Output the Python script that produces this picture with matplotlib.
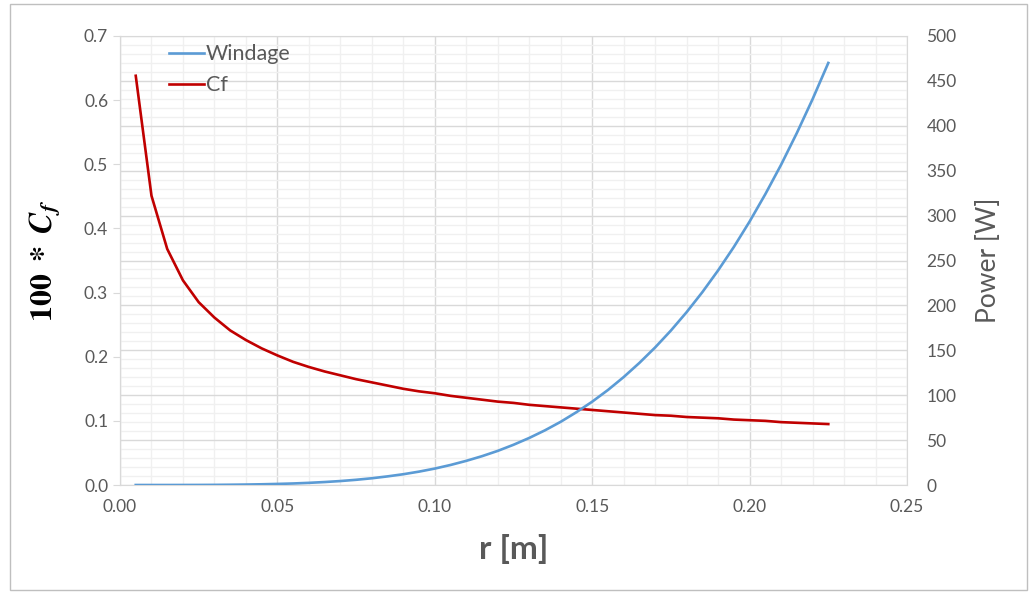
import matplotlib
matplotlib.use("Agg")
import matplotlib.pyplot as plt
from matplotlib.ticker import MultipleLocator, FormatStrFormatter
from matplotlib.patches import Rectangle

# ---- data ----
r = [0.005, 0.010, 0.015, 0.020, 0.025, 0.030, 0.035, 0.040, 0.045, 0.050,
     0.055, 0.060, 0.065, 0.070, 0.075, 0.080, 0.085, 0.090, 0.095, 0.100,
     0.105, 0.110, 0.115, 0.120, 0.125, 0.130, 0.135, 0.140, 0.145, 0.150,
     0.155, 0.160, 0.165, 0.170, 0.175, 0.180, 0.185, 0.190, 0.195, 0.200,
     0.205, 0.210, 0.215, 0.220, 0.225]
cf = [0.638, 0.451, 0.368, 0.319, 0.285, 0.261, 0.241, 0.226, 0.213, 0.202,
      0.192, 0.184, 0.177, 0.171, 0.165, 0.160, 0.155, 0.150, 0.146, 0.143,
      0.139, 0.136, 0.133, 0.130, 0.128, 0.125, 0.123, 0.121, 0.119, 0.117,
      0.115, 0.113, 0.111, 0.109, 0.108, 0.106, 0.105, 0.104, 0.102, 0.101,
      0.100, 0.098, 0.097, 0.096, 0.095]
windage = [0.0, 0.0, 0.0, 0.03, 0.07, 0.15, 0.3, 0.5, 0.8, 1.2,
           1.7, 2.4, 3.3, 4.4, 5.8, 7.5, 9.6, 12.0, 14.9, 18.3,
           22.3, 26.9, 32.1, 38.0, 44.8, 52.4, 60.9, 70.4, 81.1, 92.8,
           105.8, 120.2, 136.0, 153.2, 172.0, 192.5, 214.8, 239.0, 265.1, 293.4,
           323.9, 356.6, 391.9, 429.6, 470.0]

plt.rcParams['font.family'] = ['Lato', 'DejaVu Sans']
plt.rcParams['mathtext.fontset'] = 'stix'

TXT = '#595959'
W, H = 1031, 594
fig = plt.figure(figsize=(W / 100, H / 100), dpi=100)
fig.patch.set_facecolor('white')

# outer chart border
fig.add_artist(Rectangle((10 / W, 4 / H), 1017 / W, 586 / H, transform=fig.transFigure,
                         fill=False, edgecolor='#bfbfbf', lw=1.0))

pos = [120 / W, 1 - 485 / H, (907 - 120) / W, (485 - 36) / H]

# grid-only axes at the back
gax = fig.add_axes(pos, zorder=0)
gax.set_xlim(0, 0.25)
gax.set_ylim(0, 500)
gax.xaxis.set_major_locator(MultipleLocator(0.05))
gax.xaxis.set_minor_locator(MultipleLocator(0.01))
gax.yaxis.set_major_locator(MultipleLocator(50))
gax.yaxis.set_minor_locator(MultipleLocator(10))
gax.grid(which='major', color='#d9d9d9', lw=1.0)
gax.grid(which='minor', color='#f0f0f0', lw=1.0)
gax.tick_params(which='both', length=0, labelbottom=False, labelleft=False)
for s in gax.spines.values():
    s.set_color('#d9d9d9')

# left axis: Cf
ax = fig.add_axes(pos, zorder=1)
ax.patch.set_visible(False)
l2, = ax.plot(r, cf, color='#C00000', lw=1.9, label='Cf')
ax.set_xlim(0, 0.25)
ax.set_ylim(0, 0.7)
ax.xaxis.set_major_locator(MultipleLocator(0.05))
ax.yaxis.set_major_locator(MultipleLocator(0.1))
ax.xaxis.set_major_formatter(FormatStrFormatter('%.2f'))
ax.yaxis.set_major_formatter(FormatStrFormatter('%.1f'))
ax.tick_params(axis='both', labelsize=12.5, colors=TXT, length=5, color='#d9d9d9')
ax.tick_params(axis='x', length=0, pad=10)
for s in ax.spines.values():
    s.set_visible(False)
ax.spines['left'].set_visible(True)
ax.spines['left'].set_color('#d9d9d9')
ax.set_xlabel('r [m]', fontsize=24, fontweight='bold', color=TXT, labelpad=14)
ax.set_ylabel(r'$\mathbf{100\ *\ }\mathbfit{C_f}$', fontsize=23, color='black', labelpad=16)

# right axis: Windage
ax2 = ax.twinx()
ax2.set_zorder(2)
ax2.patch.set_visible(False)
l1, = ax2.plot(r, windage, color='#5B9BD5', lw=1.9, label='Windage')
ax2.set_ylim(0, 500)
ax2.yaxis.set_major_locator(MultipleLocator(50))
ax2.tick_params(axis='y', labelsize=12.5, colors=TXT, length=0, pad=14)
for s in ax2.spines.values():
    s.set_visible(False)
ax2.set_ylabel('Power [W]', fontsize=19, color=TXT, labelpad=14)

leg = ax2.legend(handles=[l1, l2], loc='upper left', bbox_to_anchor=(0.046, 1.01),
                 frameon=False, fontsize=15.5, handlelength=1.6, handletextpad=0.1,
                 labelspacing=0.5, borderaxespad=0.2)
for t in leg.get_texts():
    t.set_color(TXT)

fig.savefig('out.png', dpi=100, facecolor='white')
